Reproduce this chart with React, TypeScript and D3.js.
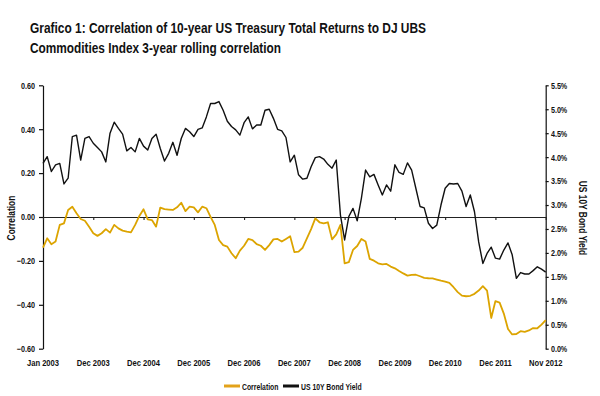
import React, { useEffect, useRef } from 'react';
import * as d3 from 'd3';

// monthly points, Jan 2003 .. Nov 2012 (index 0..120 on the category axis)
const xTickLabels = [
  'Jan 2003', 'Dec 2003', 'Dec 2004', 'Dec 2005', 'Dec 2006', 'Dec 2007',
  'Dec 2008', 'Dec 2009', 'Dec 2010', 'Dec 2011', 'Nov 2012',
];

const correlation = [
  -0.140, -0.097, -0.124, -0.112, -0.036, -0.029, 0.032, 0.047, 0.017, -0.009,
  -0.017, -0.044, -0.074, -0.086, -0.074, -0.055, -0.071, -0.036, -0.052, -0.062,
  -0.067, -0.070, -0.036, 0.005, 0.035, -0.011, -0.014, -0.044, 0.043, 0.036,
  0.034, 0.032, 0.044, 0.065, 0.027, 0.047, 0.044, 0.021, 0.047, 0.040,
  0.001, -0.036, -0.105, -0.128, -0.135, -0.165, -0.188, -0.153, -0.131, -0.100,
  -0.105, -0.124, -0.131, -0.150, -0.128, -0.102, -0.100, -0.112, -0.100, -0.088,
  -0.160, -0.158, -0.140, -0.097, -0.055, -0.006, -0.024, -0.029, -0.024, -0.102,
  -0.079, -0.036, -0.211, -0.206, -0.150, -0.132, -0.100, -0.112, -0.191, -0.199,
  -0.211, -0.216, -0.214, -0.226, -0.234, -0.246, -0.257, -0.267, -0.264, -0.263,
  -0.270, -0.277, -0.279, -0.280, -0.285, -0.290, -0.294, -0.300, -0.320, -0.342,
  -0.358, -0.361, -0.359, -0.350, -0.335, -0.315, -0.335, -0.460, -0.383, -0.390,
  -0.440, -0.510, -0.535, -0.533, -0.520, -0.523, -0.517, -0.506, -0.507, -0.490,
  -0.470,
];

const bondYield = [
  3.87, 4.01, 3.70, 3.84, 3.87, 3.44, 3.56, 4.43, 4.46, 3.94,
  4.39, 4.43, 4.29, 4.20, 4.11, 3.90, 4.50, 4.73, 4.60, 4.48,
  4.13, 4.20, 4.11, 4.39, 4.23, 4.15, 4.39, 4.48, 4.18, 3.92,
  4.08, 4.31, 4.04, 4.39, 4.60, 4.53, 4.43, 4.58, 4.61, 4.84,
  5.12, 5.12, 5.16, 4.98, 4.75, 4.64, 4.57, 4.46, 4.72, 4.84,
  4.59, 4.67, 4.67, 4.98, 5.00, 4.81, 4.58, 4.55, 4.41, 3.90,
  4.04, 3.63, 3.54, 3.56, 3.80, 3.99, 4.01, 3.96, 3.85, 3.77,
  3.94, 2.79, 2.27, 2.76, 2.93, 2.67, 3.14, 3.73, 3.59, 3.64,
  3.42, 3.21, 3.42, 3.29, 3.84, 3.68, 3.64, 3.88, 3.73, 3.35,
  2.97, 2.94, 2.62, 2.51, 2.58, 3.00, 3.35, 3.45, 3.44, 3.45,
  3.29, 2.97, 3.21, 2.86, 2.23, 1.78, 1.99, 2.12, 1.89, 1.87,
  2.06, 2.21, 1.96, 1.47, 1.59, 1.56, 1.56, 1.63, 1.71, 1.66,
  1.60,
];

const corrTicks = [-0.6, -0.4, -0.2, 0, 0.2, 0.4, 0.6];
const yieldTicks = [0, 0.5, 1, 1.5, 2, 2.5, 3, 3.5, 4, 4.5, 5, 5.5];

const GOLD = '#DCA400';
const FONT = '"Liberation Sans", Arial, sans-serif';
const SQUEEZE = 0.8; // the original uses a narrow face

export default function App() {
  const node = useRef<SVGSVGElement | null>(null);

  useEffect(() => {
    const svg = d3.select(node.current);
    svg.selectAll('*').remove();

    const left = 43, right = 545.7, top = 85.3, bottom = 348.7;
    const n = correlation.length;
    const step = (n - 1) / (xTickLabels.length - 1);

    const x = d3.scaleLinear().domain([0, n - 1]).range([left, right]);
    const yL = d3.scaleLinear().domain([-0.6, 0.6]).range([bottom, top]);
    const yR = d3.scaleLinear().domain([0, 5.5]).range([bottom, top]);

    // title
    const title = svg.append('g')
      .style('font-family', FONT)
      .style('font-weight', 'bold')
      .style('font-size', '14.5px')
      .attr('fill', '#111');
    title.append('text').attr('x', 30).attr('y', 33)
      .attr('textLength', 396).attr('lengthAdjust', 'spacingAndGlyphs')
      .text('Grafico 1: Correlation of 10-year US Treasury Total Returns to DJ UBS');
    title.append('text').attr('x', 30).attr('y', 52.5)
      .attr('textLength', 251).attr('lengthAdjust', 'spacingAndGlyphs')
      .text('Commodities Index 3-year rolling correlation');

    // left axis
    const leftAxis = svg.append('g')
      .attr('transform', `translate(${left},0)`)
      .call(d3.axisLeft(yL).tickValues(corrTicks).tickFormat(d3.format('.2f')).tickSize(4).tickSizeOuter(0).tickPadding(6));
    // right axis
    const rightAxis = svg.append('g')
      .attr('transform', `translate(${right},0)`)
      .call(d3.axisRight(yR).tickValues(yieldTicks).tickFormat(d => d3.format('.1f')(d as number) + '%').tickSize(3).tickSizeOuter(0).tickPadding(3.5));

    [leftAxis, rightAxis].forEach(a => {
      a.selectAll('path,line').attr('stroke', '#111').attr('stroke-width', 1.2);
      a.selectAll('text')
        .attr('fill', '#111')
        .attr('transform', `scale(${SQUEEZE},1)`)
        .style('font-family', FONT)
        .style('font-weight', 'bold')
        .style('font-size', '9px');
    });

    // zero line as category axis
    const xAxis = svg.append('g')
      .attr('transform', `translate(0,${yL(0)})`)
      .call(d3.axisBottom(x).tickValues(d3.range(0, n, step)).tickFormat(() => '').tickSize(3).tickSizeOuter(0));
    xAxis.selectAll('path,line').attr('stroke', '#222').attr('stroke-width', 1.1);

    // category labels at the bottom
    svg.append('g')
      .selectAll('text')
      .data(xTickLabels)
      .enter()
      .append('text')
      .attr('transform', (d, i) => `translate(${x(i * step)},366) scale(${SQUEEZE},1)`)
      .attr('text-anchor', 'middle')
      .attr('fill', '#111')
      .style('font-family', FONT)
      .style('font-weight', 'bold')
      .style('font-size', '9.5px')
      .text(d => d);

    // axis titles
    svg.append('text')
      .attr('transform', `translate(15,218) rotate(-90) scale(${SQUEEZE},1)`)
      .attr('text-anchor', 'middle')
      .attr('fill', '#111')
      .style('font-family', FONT)
      .style('font-weight', 'bold')
      .style('font-size', '10.5px')
      .text('Correlation');
    svg.append('text')
      .attr('transform', `translate(579,218) rotate(90) scale(${SQUEEZE},1)`)
      .attr('text-anchor', 'middle')
      .attr('fill', '#111')
      .style('font-family', FONT)
      .style('font-weight', 'bold')
      .style('font-size', '10.5px')
      .text('US 10Y Bond Yield');

    // lines
    const corrLine = d3.line<number>().x((d, i) => x(i)).y(d => yL(d));
    const yieldLine = d3.line<number>().x((d, i) => x(i)).y(d => yR(d));

    svg.append('path')
      .datum(correlation)
      .attr('fill', 'none')
      .attr('stroke', GOLD)
      .attr('stroke-width', 1.8)
      .attr('stroke-linejoin', 'round')
      .attr('d', corrLine);
    svg.append('path')
      .datum(bondYield)
      .attr('fill', 'none')
      .attr('stroke', '#111')
      .attr('stroke-width', 1.4)
      .attr('stroke-linejoin', 'round')
      .attr('d', yieldLine);

    // legend
    const legend = svg.append('g')
      .style('font-family', FONT)
      .style('font-weight', 'bold')
      .style('font-size', '9px');
    const items = [
      { label: 'Correlation', color: '#E3A21A', x: 224 },
      { label: 'US 10Y Bond Yield', color: '#111', x: 283 },
    ];
    items.forEach(it => {
      legend.append('line')
        .attr('x1', it.x).attr('x2', it.x + 16)
        .attr('y1', 386).attr('y2', 386)
        .attr('stroke', it.color).attr('stroke-width', 3);
      legend.append('text')
        .attr('transform', `translate(${it.x + 18},389.5) scale(0.76,1)`)
        .attr('fill', '#111')
        .text(it.label);
    });
  }, []);

  return (
    <svg
      ref={node}
      width={600}
      height={396}
      style={{ position: 'absolute', left: 0, top: 0, background: '#fff' }}
    />
  );
}
